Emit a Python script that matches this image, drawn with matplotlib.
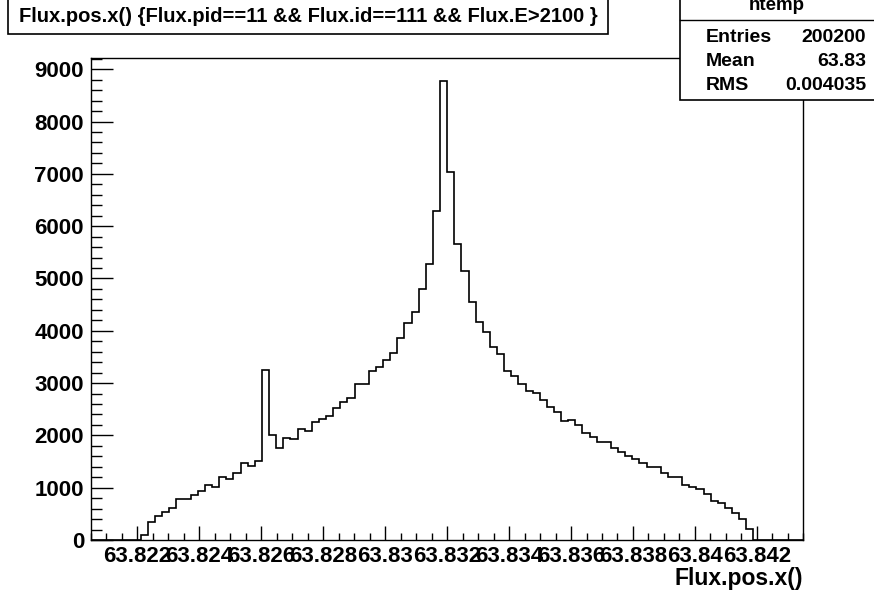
import numpy as np
import matplotlib
matplotlib.use("Agg")
import matplotlib.pyplot as plt
from matplotlib.patches import Rectangle
from matplotlib.lines import Line2D
from matplotlib.ticker import MultipleLocator, FixedLocator

# ---------------- data ----------------
x_min = 63.8205
x_max = 63.8435
n_bins = 100
counts = [
    0, 0, 0, 0, 0, 0, 0, 100, 340, 465,
    540, 620, 785, 785, 855, 930, 1050, 1020, 1195, 1175,
    1285, 1465, 1415, 1515, 3250, 2005, 1765, 1955, 1930, 2125,
    2075, 2255, 2320, 2370, 2518, 2640, 2709, 2990, 2990, 3225,
    3298, 3442, 3570, 3870, 4150, 4350, 4793, 5285, 6296, 8776,
    7031, 5654, 5150, 4545, 4174, 3983, 3684, 3551, 3231, 3136,
    2983, 2849, 2805, 2677, 2537, 2442, 2275, 2294, 2199, 2052,
    1975, 1880, 1880, 1765, 1688, 1612, 1549, 1466, 1402, 1402,
    1275, 1199, 1199, 1052, 1020, 975, 873, 752, 701, 618,
    510, 395, 204, 0, 0, 0, 0, 0, 0, 0,
]
x_ticks = [63.822, 63.824, 63.826, 63.828, 63.830, 63.832,
           63.834, 63.836, 63.838, 63.840, 63.842]
x_tick_labels = ["63.822", "63.824", "63.826", "63.828", "63.83", "63.832",
                 "63.834", "63.836", "63.838", "63.84", "63.842"]
y_ticks = [0, 1000, 2000, 3000, 4000, 5000, 6000, 7000, 8000, 9000]
y_tick_labels = ["0", "1000", "2000", "3000", "4000", "5000", "6000", "7000", "8000", "9000"]
title_text = "Flux.pos.x() {Flux.pid==11 && Flux.id==111 && Flux.E>2100 }"
x_label = "Flux.pos.x()"
stats_name = "htemp"
stats_keys = ["Entries", "Mean", "RMS"]
stats_vals = ["200200", "63.83", "0.004035"]

# ---------------- figure ----------------
W, H = 874, 595
fig = plt.figure(figsize=(W / 100, H / 100), dpi=100)
plt.rcParams['font.family'] = ['Liberation Sans', 'DejaVu Sans']

def fx(px):
    return px / W

def fy(py):
    return 1 - py / H

ax_l, ax_r, ax_t, ax_b = 91, 803.3, 58, 540
ax = fig.add_axes([fx(ax_l), fy(ax_b), fx(ax_r) - fx(ax_l), fy(ax_t) - fy(ax_b)])

edges = np.linspace(x_min, x_max, n_bins + 1)
ax.stairs(counts, edges, color='black', linewidth=1.2)

ax.set_xlim(x_min, x_max)
ax.set_ylim(0, 1.05 * max(counts))

ax.xaxis.set_major_locator(FixedLocator(x_ticks))
ax.set_xticklabels(x_tick_labels, fontsize=16, fontweight='bold')
ax.xaxis.set_minor_locator(MultipleLocator(0.0005))
ax.yaxis.set_major_locator(FixedLocator(y_ticks))
ax.set_yticklabels(y_tick_labels, fontsize=16, fontweight='bold')
ax.yaxis.set_minor_locator(MultipleLocator(200))

ax.tick_params(axis='both', which='both', direction='in', top=False, right=False,
               color='black', width=1.0)
ax.tick_params(axis='x', which='major', length=10, pad=4)
ax.tick_params(axis='x', which='minor', length=5)
ax.tick_params(axis='y', which='major', length=16, pad=5)
ax.tick_params(axis='y', which='minor', length=8)

for s in ax.spines.values():
    s.set_linewidth(1.0)
    s.set_color('black')

fig.text(fx(ax_r), fy(578), x_label, ha='right', va='center',
         fontsize=16.5, fontweight='bold')

# title box
fig.add_artist(Rectangle((fx(8), fy(34)), fx(608) - fx(8), fy(-5) - fy(34),
                         transform=fig.transFigure, facecolor='white',
                         edgecolor='black', linewidth=1.2))
fig.text(fx(308), fy(17), title_text, ha='center', va='center',
         fontsize=14.5, fontweight='bold')

# stats box
fig.add_artist(Rectangle((fx(680), fy(100)), fx(880) - fx(680), fy(-5) - fy(100),
                         transform=fig.transFigure, facecolor='white',
                         edgecolor='black', linewidth=1.2, zorder=5))
fig.add_artist(Line2D([fx(680), fx(880)], [fy(20), fy(20)],
                      transform=fig.transFigure, color='black', linewidth=1.0, zorder=6))
fig.text(fx(777), fy(5), stats_name, ha='center', va='center',
         fontsize=13.5, fontweight='bold', zorder=7)
row_y = [38, 62, 86]
for k, v, yy in zip(stats_keys, stats_vals, row_y):
    fig.text(fx(706), fy(yy), k, ha='left', va='center', fontsize=14,
             fontweight='bold', zorder=7)
    fig.text(fx(866), fy(yy), v, ha='right', va='center', fontsize=14,
             fontweight='bold', zorder=7)

fig.savefig("out.png", dpi=100)
